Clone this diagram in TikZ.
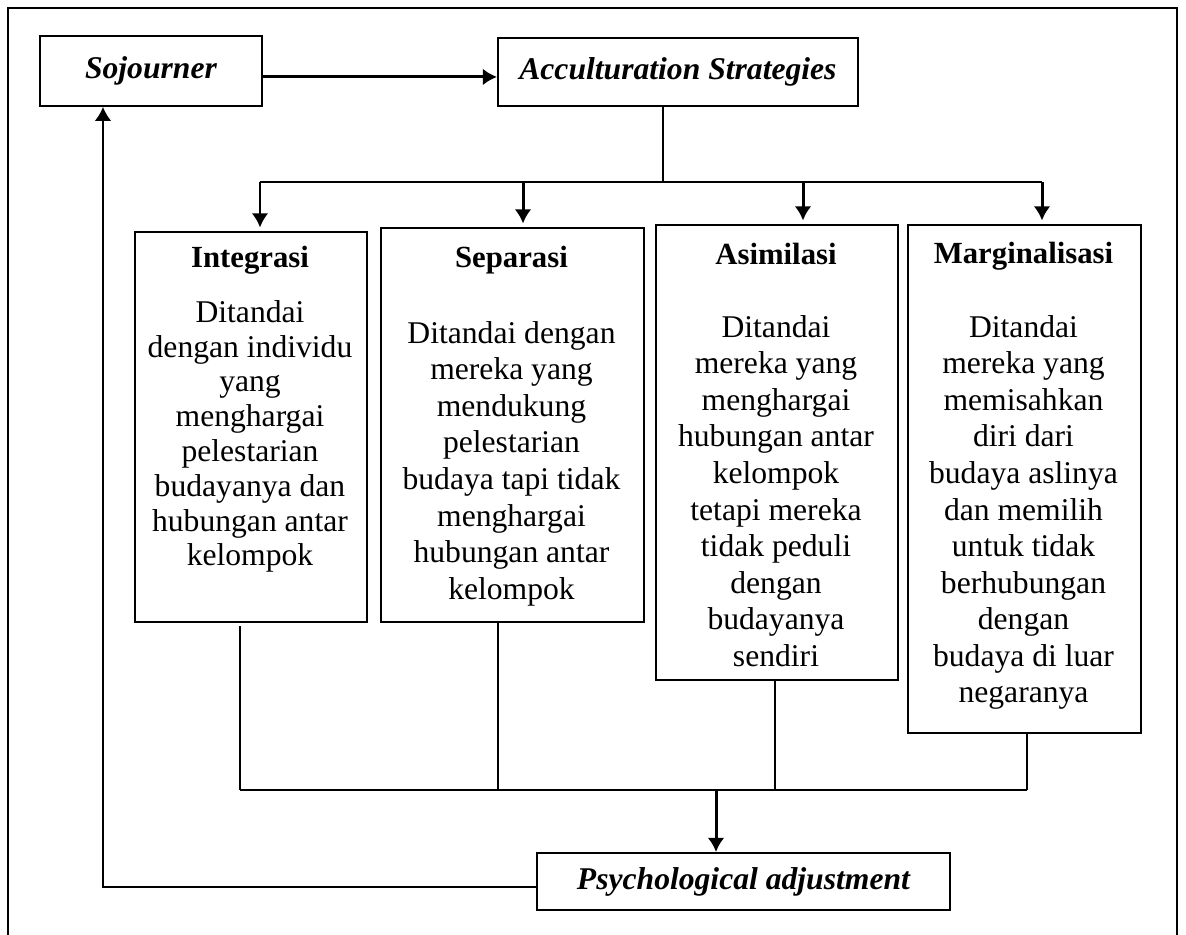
\documentclass[tikz,border=0pt]{standalone}
\usepackage{fontspec}
\setmainfont{Liberation Serif}
\usetikzlibrary{arrows.meta}

\tikzset{
  gaya diagram/.style={
      x=0.02cm, y=-0.02cm,
      kotak/.style={draw, rectangle, line width=1.1pt, inner sep=0pt, anchor=north west},
      miring/.style={font={\bfseries\itshape\fontsize{18}{21}\selectfont}},
      judul/.style={font={\bfseries\fontsize{17.5}{21}\selectfont}, anchor=base, inner sep=0pt},
      isi/.style={align=center, anchor=north, inner sep=0pt, font={\fontsize{18}{20.8}\selectfont}},
      panah/.style={-{Latex[length=8pt,width=9.5pt]}, line width=1.7pt},
      garis/.style={line width=0.85pt},
      garis tebal/.style={line width=1.1pt},
    },
}

\begin{document}
\begin{tikzpicture}[gaya diagram]
  \useasboundingbox (0,0) rectangle (1186,935);
  % bingkai luar
  \draw[line width=1pt] (8,935) -- (8,8) -- (1177,8) -- (1177,935);

  \node[kotak, miring, minimum width=4.44cm, minimum height=1.4cm] (sojourner) at (39,35) {Sojourner};
  \node[kotak, miring, minimum width=7.2cm, minimum height=1.36cm] (akulturasi) at (497,37) {Acculturation Strategies};

  \node[kotak, minimum width=4.64cm, minimum height=7.8cm] (integrasi) at (134,231) {};
  \node[kotak, minimum width=5.26cm, minimum height=7.88cm] (separasi) at (380,227) {};
  \node[kotak, minimum width=4.84cm, minimum height=9.1cm] (asimilasi) at (655,224) {};
  \node[kotak, minimum width=4.66cm, minimum height=10.16cm] (marginalisasi) at (907,224) {};

  \node[kotak, miring, minimum width=8.26cm, minimum height=1.14cm] (psikologi) at (536,852) {Psychological adjustment};

  % judul dan isi
  \node[judul] (integrasi-judul) at (250,268) {Integrasi};
  \node[isi, font={\fontsize{18}{19.8}\selectfont}] (integrasi-isi) at (250,300)
    {Ditandai\\dengan individu\\yang\\menghargai\\pelestarian\\budayanya dan\\hubungan antar\\kelompok};
  \node[judul] (separasi-judul) at (511.5,268) {Separasi};
  \node[isi] (separasi-isi) at (511.5,321)
    {Ditandai dengan\\mereka yang\\mendukung\\pelestarian\\budaya tapi tidak\\menghargai\\hubungan antar\\kelompok};
  \node[judul] (asimilasi-judul) at (776,265) {Asimilasi};
  \node[isi] (asimilasi-isi) at (776,315)
    {Ditandai\\mereka yang\\menghargai\\hubungan antar\\kelompok\\tetapi mereka\\tidak peduli\\dengan\\budayanya\\sendiri};
  \node[judul] (marginalisasi-judul) at (1023.5,264) {Marginalisasi};
  \node[isi] (marginalisasi-isi) at (1023.5,315)
    {Ditandai\\mereka yang\\memisahkan\\diri dari\\budaya aslinya\\dan memilih\\untuk tidak\\berhubungan\\dengan\\budaya di luar\\negaranya};

  % percabangan atas
  \coordinate (pecah) at (663,182);
  \coordinate (a1) at (260,182);
  \coordinate (a2) at (523,182);
  \coordinate (a3) at (803,182);
  \coordinate (a4) at (1042,182);

  \draw[panah] ([yshift=-0.12cm]sojourner.east) -- ([yshift=-0.12cm]sojourner.east -| akulturasi.west);
  \draw[garis] (akulturasi.south -| pecah) -- (pecah);
  \draw[garis tebal] (a1) -- (a4);
  \foreach \a/\k in {a1/integrasi, a2/separasi, a3/asimilasi, a4/marginalisasi}
    \draw[panah, shorten >=2pt] (\a) -- (\a |- \k.north);

  % penggabungan bawah
  \coordinate (t1) at (240,790);
  \coordinate (t2) at (498,790);
  \coordinate (t3) at (775,790);
  \coordinate (t4) at (1027,790);
  \coordinate (gabung) at (716,790);
  \coordinate (balik) at (103,887);

  \draw[garis] ([yshift=-2pt]integrasi.south -| t1) -- (t1);
  \draw[garis] (separasi.south -| t2) -- (t2);
  \draw[garis] (asimilasi.south -| t3) -- (t3);
  \draw[garis] (marginalisasi.south -| t4) -- (t4);
  \draw[garis tebal] (t1) -- (t4);
  \draw[panah] (gabung) -- (gabung |- psikologi.north);

  \draw[panah, line width=1.1pt] (psikologi.west |- balik) -- (balik) -- (balik |- sojourner.south);
\end{tikzpicture}
\end{document}
